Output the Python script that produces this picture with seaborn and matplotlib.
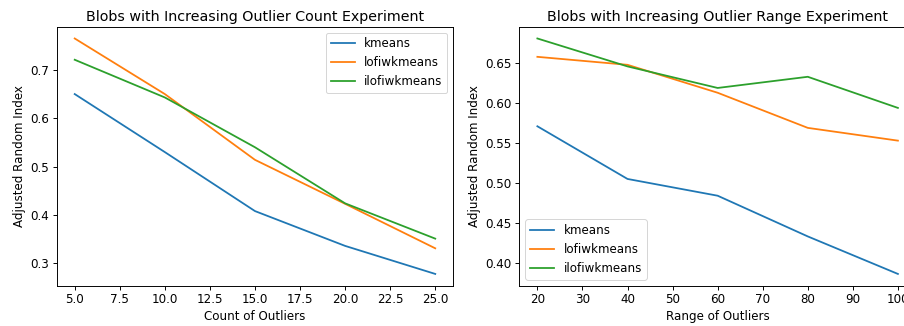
import pandas as pd
import seaborn as sns
import matplotlib.pyplot as plt

methods = ['kmeans', 'lofiwkmeans', 'ilofiwkmeans']

# left: increasing outlier count
count_x = [5, 10, 15, 20, 25]
count_kmeans = [0.650, 0.530, 0.408, 0.336, 0.278]
count_lofiwkmeans = [0.765, 0.650, 0.514, 0.423, 0.331]
count_ilofiwkmeans = [0.721, 0.643, 0.540, 0.424, 0.351]

# right: increasing outlier range
range_x = [20, 40, 60, 80, 100]
range_kmeans = [0.571, 0.505, 0.484, 0.433, 0.386]
range_lofiwkmeans = [0.658, 0.648, 0.613, 0.569, 0.553]
range_ilofiwkmeans = [0.681, 0.646, 0.619, 0.633, 0.594]


def long_df(x, series):
    rows = []
    for name, vals in zip(methods, series):
        for xi, yi in zip(x, vals):
            rows.append({'x': xi, 'ari': yi, 'method': name})
    return pd.DataFrame(rows)


df_count = long_df(count_x, [count_kmeans, count_lofiwkmeans, count_ilofiwkmeans])
df_range = long_df(range_x, [range_kmeans, range_lofiwkmeans, range_ilofiwkmeans])

# reference looks like a notebook figure shown a bit larger than 72 dpi
s = 1.19
plt.rcParams.update({
    'font.size': 10 * s,
    'axes.titlesize': 12 * s,
    'lines.linewidth': 1.5 * s,
    'axes.linewidth': 0.8 * s,
    'xtick.major.size': 3.5 * s,
    'ytick.major.size': 3.5 * s,
    'xtick.major.width': 0.8 * s,
    'ytick.major.width': 0.8 * s,
})

fig = plt.figure(figsize=(904 / 72, 326 / 72), dpi=72)
ax1 = fig.add_axes([0.0627, 0.1236, 0.4387, 0.7945])
ax2 = fig.add_axes([0.5745, 0.1236, 0.4387, 0.7945])

palette = ['#1f77b4', '#ff7f0e', '#2ca02c']

sns.lineplot(data=df_count, x='x', y='ari', hue='method', palette=palette, ax=ax1)
ax1.set_title('Blobs with Increasing Outlier Count Experiment')
ax1.set_xlabel('Count of Outliers')
ax1.set_ylabel('Adjusted Random Index')
ax1.legend(loc='upper right')

sns.lineplot(data=df_range, x='x', y='ari', hue='method', palette=palette, ax=ax2)
ax2.set_title('Blobs with Increasing Outlier Range Experiment')
ax2.set_xlabel('Range of Outliers')
ax2.set_ylabel('Adjusted Random Index')
ax2.legend(loc='lower left')

fig.savefig('out.png', dpi=72)
